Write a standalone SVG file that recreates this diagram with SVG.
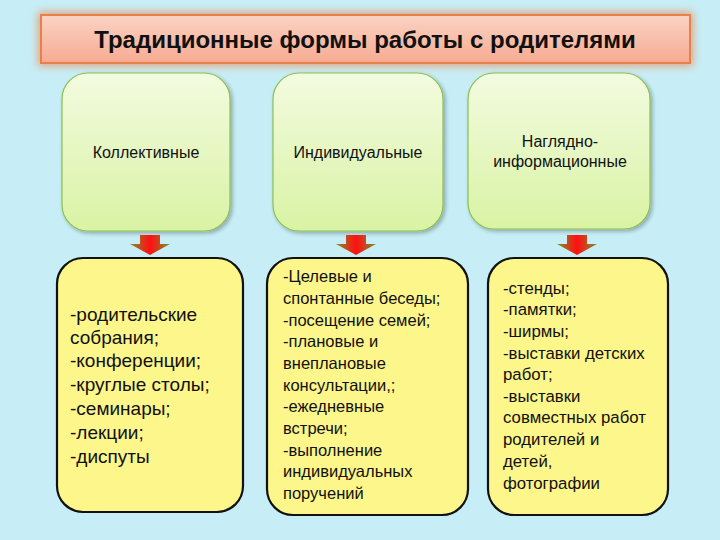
<svg xmlns="http://www.w3.org/2000/svg" width="720" height="540" viewBox="0 0 720 540">
<defs>
<linearGradient id="gTitle" x1="0" y1="0" x2="0" y2="1">
<stop offset="0" stop-color="#fbd3c4"/>
<stop offset="1" stop-color="#f6ab92"/>
</linearGradient>
<linearGradient id="gGreen" x1="0" y1="0" x2="0" y2="1">
<stop offset="0" stop-color="#f3fbe0"/>
<stop offset="1" stop-color="#d9f3a4"/>
</linearGradient>
<linearGradient id="gHead" x1="0" y1="0" x2="1" y2="0">
<stop offset="0" stop-color="#6f9a2a"/>
<stop offset="0.35" stop-color="#e0301a"/>
<stop offset="0.5" stop-color="#ff1010"/>
<stop offset="0.65" stop-color="#e0301a"/>
<stop offset="1" stop-color="#6f9a2a"/>
</linearGradient>
<filter id="glow" x="-5%" y="-30%" width="110%" height="160%">
<feGaussianBlur stdDeviation="4"/>
</filter>
<filter id="sh" x="-10%" y="-10%" width="125%" height="125%">
<feGaussianBlur in="SourceAlpha" stdDeviation="2"/>
<feOffset dx="2" dy="2"/>
<feComponentTransfer><feFuncA type="linear" slope="0.3"/></feComponentTransfer>
<feMerge><feMergeNode/><feMergeNode in="SourceGraphic"/></feMerge>
</filter>
<path id="arrow" d="M-10,0 H10 V9 H20 L0,20 L-20,9 H-10 Z"/>
</defs>
<style>
.t{font-family:"Liberation Sans","Noto Sans",sans-serif;fill:#111}
.title{font-size:24px;font-weight:bold;text-anchor:middle}
.head{font-size:16px;text-anchor:middle}
.top{fill:url(#gGreen);stroke:#8cbf4e;stroke-width:1.2}
.bot{fill:#fdf68a;stroke:#111;stroke-width:2.2}
.c1{font-size:19px}
.c2{font-size:16.5px}
.c3{font-size:16.8px}
</style>
<rect width="720" height="540" fill="#c7eef6"/>

<g id="title">
<rect x="38" y="12" width="655" height="54" fill="#e8905e" opacity="0.8" filter="url(#glow)"/>
<rect x="41" y="15" width="649" height="48" fill="url(#gTitle)" stroke="#e88048" stroke-width="2"/>
<text class="t title" x="365" y="48">Традиционные формы работы с родителями</text>
</g>

<g id="node-collective">
<rect class="top" x="62" y="73" width="168" height="158" rx="26" filter="url(#sh)"/>
<text class="t head" x="146" y="158">Коллективные</text>
</g>
<g id="node-individual">
<rect class="top" x="273" y="73" width="170" height="158" rx="26" filter="url(#sh)"/>
<text class="t head" x="358" y="158">Индивидуальные</text>
</g>
<g id="node-visual">
<rect class="top" x="468" y="73" width="182" height="156" rx="26" filter="url(#sh)"/>
<text class="t head" x="560" y="147">Наглядно-</text>
<text class="t head" x="560" y="167">информационные</text>
</g>

<g id="connectors">
<use href="#arrow" x="150" y="235" fill="url(#gHead)"/>
<use href="#arrow" x="356" y="235" fill="url(#gHead)"/>
<use href="#arrow" x="577" y="235" fill="url(#gHead)"/>
</g>

<g id="node-collective-list">
<rect class="bot" x="57" y="258" width="186" height="254" rx="26"/>
<text class="t c1">
<tspan x="70" y="321">-родительские</tspan>
<tspan x="70" y="344">собрания;</tspan>
<tspan x="70" y="367">-конференции;</tspan>
<tspan x="70" y="391">-круглые столы;</tspan>
<tspan x="70" y="415">-семинары;</tspan>
<tspan x="70" y="439">-лекции;</tspan>
<tspan x="70" y="463">-диспуты</tspan>
</text>
</g>

<g id="node-individual-list">
<rect class="bot" x="267" y="258" width="201" height="257" rx="26"/>
<text class="t c2">
<tspan x="283" y="282">-Целевые  и</tspan>
<tspan x="283" y="304">спонтанные беседы;</tspan>
<tspan x="283" y="326">-посещение семей;</tspan>
<tspan x="283" y="347">-плановые и</tspan>
<tspan x="283" y="369">внеплановые</tspan>
<tspan x="283" y="391">консультации,;</tspan>
<tspan x="283" y="412">-ежедневные</tspan>
<tspan x="283" y="434">встречи;</tspan>
<tspan x="283" y="456">-выполнение</tspan>
<tspan x="283" y="477">индивидуальных</tspan>
<tspan x="283" y="499">поручений</tspan>
</text>
</g>

<g id="node-visual-list">
<rect class="bot" x="488" y="258" width="180" height="257" rx="26"/>
<text class="t c3">
<tspan x="503" y="294">-стенды;</tspan>
<tspan x="503" y="315">-памятки;</tspan>
<tspan x="503" y="337">-ширмы;</tspan>
<tspan x="503" y="359">-выставки детских</tspan>
<tspan x="503" y="380">работ;</tspan>
<tspan x="503" y="402">-выставки</tspan>
<tspan x="503" y="423">совместных работ</tspan>
<tspan x="503" y="445">родителей и</tspan>
<tspan x="503" y="467">детей,</tspan>
<tspan x="503" y="489">фотографии</tspan>
</text>
</g>
</svg>
